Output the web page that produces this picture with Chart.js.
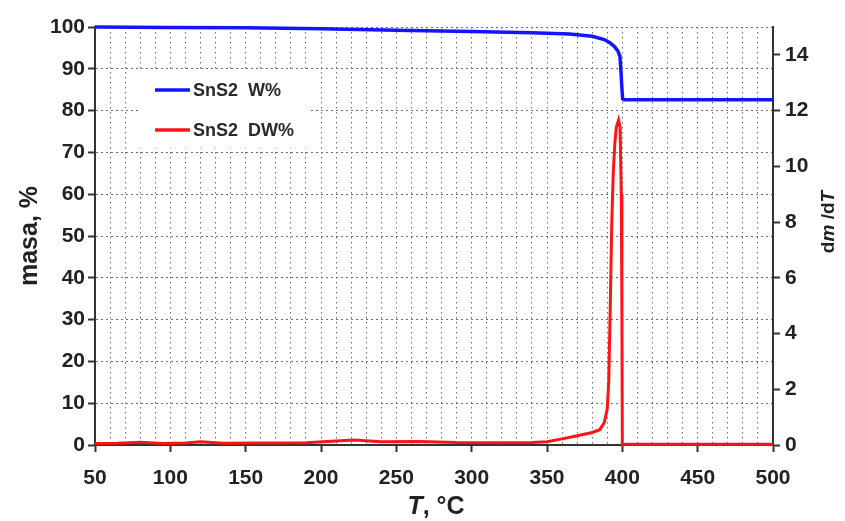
<!DOCTYPE html>
<html>
<head>
<meta charset="utf-8">
<script src="https://cdn.jsdelivr.net/npm/chart.js@4.4.1/dist/chart.umd.min.js"></script>
<style>
  html, body { margin: 0; padding: 0; background: #fff; }
  #wrap { width: 845px; height: 521px; position: relative; }
</style>
</head>
<body>
<div id="wrap"><canvas id="myChart"></canvas></div>
<script>
// masa (W%) — left axis
const wTemps = [50, 100, 150, 200, 250, 300, 340, 365, 380, 388, 392, 395, 397, 398.4, 399, 399.6, 400.2, 401, 450, 500];
const wValues = [100, 99.9, 99.8, 99.6, 99.2, 98.9, 98.6, 98.3, 97.8, 97.0, 96.2, 95.2, 94.3, 93.0, 90.0, 86.0, 82.8, 82.6, 82.6, 82.6];

// dm/dT (DW%) — right axis
const dwTemps = [50, 65, 80, 95, 110, 120, 135, 160, 190, 210, 222, 240, 265, 290, 320, 340, 350, 360, 370, 380, 385, 388, 390, 391, 392, 393, 394, 395, 396, 397.5, 398.5, 399.3, 399.7, 400, 402, 450, 500];
const dwValues = [0.05, 0.06, 0.1, 0.05, 0.07, 0.12, 0.06, 0.07, 0.08, 0.14, 0.18, 0.12, 0.13, 0.09, 0.08, 0.09, 0.12, 0.22, 0.33, 0.45, 0.55, 0.8, 1.3, 2.3, 5, 8, 9.8, 10.8, 11.4, 11.66, 11.4, 9, 5, 0, 0.03, 0.03, 0.03];

const xMin = 50, xMax = 500, xStep = 10, xLabelStep = 50;
const leftMax = 100, leftStep = 10;
const rightMax = 15, rightStep = 2;

const FONT = '"Liberation Sans", Arial, sans-serif';
const AXIS = '#333';
const GRID = '#6f6f6f';

const ctx = document.getElementById("myChart");

// legend box inside the plot
const insideLegend = {
    id: 'insideLegend',
    afterDatasetsDraw(chart) {
        const c = chart.ctx;
        c.save();
        c.fillStyle = '#fff';
        c.fillRect(140, 72, 170, 76);
        const rows = [90, 130];
        chart.data.datasets.forEach(function (ds, i) {
            const y = rows[i];
            c.strokeStyle = ds.borderColor;
            c.lineWidth = 3.5;
            c.beginPath();
            c.moveTo(155, y);
            c.lineTo(190, y);
            c.stroke();
            c.fillStyle = '#2a2a2a';
            c.font = 'bold 18px ' + FONT;
            c.textBaseline = 'middle';
            c.fillText(ds.label, 193, y + 1);
        });
        c.restore();
    }
};

// draw a run of text pieces (some italic) centred on 0,0
function drawPieces(c, pieces, size) {
    let total = 0;
    pieces.forEach(function (p) {
        c.font = (p.it ? 'italic ' : '') + 'bold ' + size + 'px ' + FONT;
        p.w = c.measureText(p.t).width;
        total += p.w;
    });
    let x = -total / 2;
    pieces.forEach(function (p) {
        c.font = (p.it ? 'italic ' : '') + 'bold ' + size + 'px ' + FONT;
        c.fillText(p.t, x, 0);
        x += p.w;
    });
}

const axisTitles = {
    id: 'axisTitles',
    afterDraw(chart) {
        const c = chart.ctx;
        c.save();
        c.fillStyle = '#222';
        c.textBaseline = 'middle';

        // left title
        c.save();
        c.translate(30, 236);
        c.rotate(-Math.PI / 2);
        drawPieces(c, [{ t: 'masa, %' }], 25);
        c.restore();

        // bottom title
        c.save();
        c.translate(436, 507);
        drawPieces(c, [{ t: 'T', it: true }, { t: ', °C' }], 25);
        c.restore();

        // right title
        c.save();
        c.translate(829, 222);
        c.rotate(-Math.PI / 2);
        drawPieces(c, [{ t: 'd' }, { t: 'm', it: true }, { t: ' /d' }, { t: 'T', it: true }], 19);
        c.restore();

        c.restore();
    }
};

function toPoints(xs, ys) {
    return xs.map(function (x, i) { return { x: x, y: ys[i] }; });
}

const tickFont = { family: FONT, size: 21, weight: 'bold' };

new Chart(ctx, {
    type: 'line',
    data: {
        datasets: [
            {
                label: 'SnS2  W%',
                data: toPoints(wTemps, wValues),
                borderColor: '#1414ff',
                borderWidth: 3.5,
                pointRadius: 0,
                tension: 0,
                yAxisID: 'y',
                clip: false
            },
            {
                label: 'SnS2  DW%',
                data: toPoints(dwTemps, dwValues),
                borderColor: '#ff1414',
                borderWidth: 3,
                pointRadius: 0,
                tension: 0,
                yAxisID: 'y1',
                clip: false
            }
        ]
    },
    options: {
        responsive: true,
        maintainAspectRatio: false,
        animation: false,
        layout: { padding: { top: 27, left: 0, right: 0, bottom: 0 } },
        plugins: {
            legend: { display: false },
            tooltip: { enabled: false }
        },
        scales: {
            x: {
                type: 'linear',
                min: xMin,
                max: xMax,
                afterFit: function (scale) { scale.height = 76; },
                border: { color: AXIS, width: 2, dash: [1.5, 3.5] },
                grid: {
                    color: GRID,
                    lineWidth: 1,
                    tickLength: 7,
                    tickWidth: 2,
                    tickColor: function (c) {
                        return c.tick && c.tick.value % xLabelStep === 0 ? AXIS : 'rgba(0,0,0,0)';
                    }
                },
                ticks: {
                    stepSize: xStep,
                    autoSkip: false,
                    maxRotation: 0,
                    padding: 14,
                    color: '#222',
                    font: tickFont,
                    callback: function (v) { return v % xLabelStep === 0 ? v : ''; }
                }
            },
            y: {
                position: 'left',
                min: 0,
                max: leftMax,
                afterFit: function (scale) { scale.width = 95; },
                border: { color: AXIS, width: 2, dash: [2, 3] },
                grid: {
                    color: GRID,
                    lineWidth: 1,
                    tickLength: 7,
                    tickWidth: 2,
                    tickColor: AXIS
                },
                ticks: {
                    stepSize: leftStep,
                    padding: 3,
                    color: '#222',
                    font: tickFont
                }
            },
            y1: {
                position: 'right',
                min: 0,
                max: rightMax,
                afterFit: function (scale) { scale.width = 72; },
                border: { color: AXIS, width: 2 },
                grid: {
                    drawOnChartArea: false,
                    tickLength: 7,
                    tickWidth: 2,
                    tickColor: AXIS
                },
                ticks: {
                    stepSize: rightStep,
                    includeBounds: false,
                    padding: 5,
                    color: '#222',
                    font: tickFont
                }
            }
        }
    },
    plugins: [insideLegend, axisTitles]
});
</script>
</body>
</html>
